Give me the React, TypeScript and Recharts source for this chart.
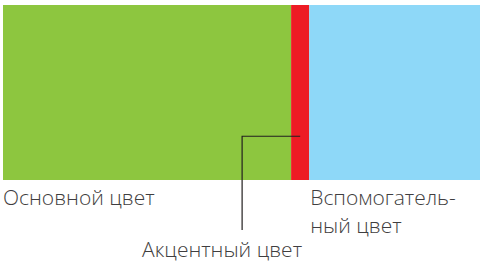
import { BarChart, Bar, XAxis, YAxis } from 'recharts';

const categories = ['Цвета'];
const mainShare = [60.4];
const accentShare = [3.8];
const secondaryShare = [35.8];

const data = categories.map((name, i) => ({
  name,
  main: mainShare[i],
  accent: accentShare[i],
  secondary: secondaryShare[i],
}));

const textStyle = {
  fontFamily: '"Open Sans", sans-serif',
  fontWeight: 300,
  fontSize: 21,
  fill: '#3f3e40',
};

const MainLabel = (props: any) => {
  const { x, y, height } = props;
  return (
    <text x={x} y={y + height + 25} style={textStyle}>
      Основной цвет
    </text>
  );
};

const SecondaryLabel = (props: any) => {
  const { x, y, height } = props;
  return (
    <text x={x + 1} y={y + height + 25} style={textStyle}>
      <tspan x={x + 1}>Вспомогатель-</tspan>
      <tspan x={x + 1} dy={28}>ный цвет</tspan>
    </text>
  );
};

const AccentLabel = (props: any) => {
  const { x, y, width, height } = props;
  const cx = x + width / 2;
  const ly = y + height * 0.75;
  const vx = x - 49;
  return (
    <g>
      <polyline
        points={`${cx},${ly} ${vx},${ly} ${vx},${y + height + 50}`}
        fill="none"
        stroke="#231f20"
        strokeWidth={1.2}
      />
      <text x={vx - 100} y={y + height + 77} style={textStyle}>
        Акцентный цвет
      </text>
    </g>
  );
};

export default function App() {
  return (
    <div style={{ position: 'absolute', left: 0, top: 0, width: 480, height: 262, background: '#fff' }}>
      <BarChart
        width={480}
        height={262}
        data={data}
        layout="vertical"
        margin={{ top: 5, right: 0, left: 3, bottom: 82 }}
        barCategoryGap={0}
      >
        <XAxis type="number" hide domain={[0, 100]} />
        <YAxis type="category" dataKey="name" hide width={0} />
        <Bar dataKey="main" stackId="a" fill="#8dc63f" isAnimationActive={false} label={<MainLabel />} />
        <Bar dataKey="accent" stackId="a" fill="#ed1c24" isAnimationActive={false} label={<AccentLabel />} />
        <Bar dataKey="secondary" stackId="a" fill="#8ed8f8" isAnimationActive={false} label={<SecondaryLabel />} />
      </BarChart>
    </div>
  );
}
